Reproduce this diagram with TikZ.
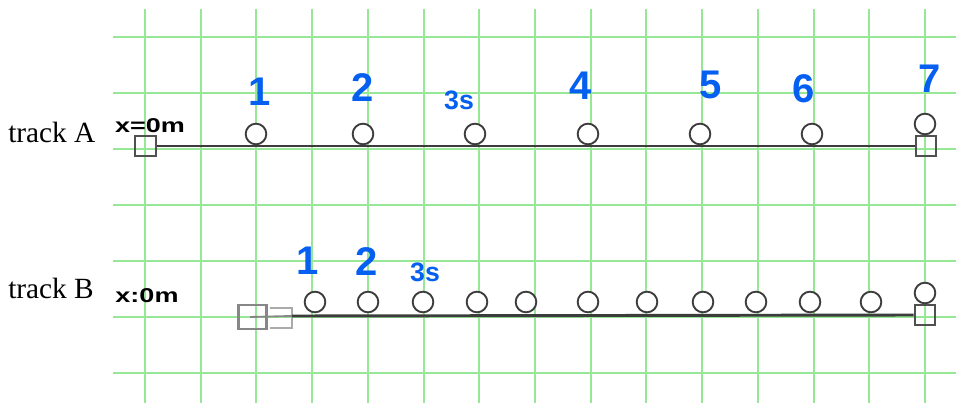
\documentclass[tikz,border=0pt]{standalone}
\usepackage{fontspec}
\setmainfont{Liberation Serif}
\newfontfamily\handfont{Liberation Sans}
\definecolor{gridgreen}{RGB}{150,232,150}
\definecolor{inkblue}{RGB}{5,95,240}
\definecolor{trackgray}{RGB}{60,60,60}
\definecolor{selgray}{RGB}{135,135,135}
\definecolor{selgraylight}{RGB}{170,170,170}
\begin{document}
\begin{tikzpicture}[x=0.75pt,y=-0.75pt,
  gridline/.style={gridgreen,line width=1.5pt},
  ball/.style={circle,draw=trackgray,line width=1.4pt,minimum size=15.5pt,inner sep=0pt,fill=white},
  cart/.style={rectangle,draw=trackgray!90,line width=1.4pt,minimum size=15.5pt,inner sep=0pt},
  trackline/.style={draw=trackgray,line width=2.2pt},
  tracklabel/.style={font=\fontsize{22}{22}\selectfont,anchor=base west,inner sep=0pt},
  originlabel/.style={font=\handfont\bfseries\fontsize{15}{15}\selectfont,xscale=1.35,inner sep=0pt},
  numlabel/.style={text=inkblue,font=\handfont\bfseries\fontsize{30}{30}\selectfont,inner sep=0pt},
  smalllabel/.style={text=inkblue,font=\handfont\bfseries\fontsize{20}{20}\selectfont,inner sep=0pt}]
\useasboundingbox (0,0) rectangle (956,403);
\fill[white] (0,0) rectangle (956,403);
% grid
\foreach \k in {0,...,14} {
  \draw[gridline] ({145+55.71*\k},9) -- ({145+55.71*\k},403);
}
\foreach \k in {0,...,6} {
  \draw[gridline] (113,{37+56*\k}) -- (956,{37+56*\k});
}
% track labels
\node[tracklabel] (ta) at (8,142) {track A};
\node[tracklabel] (tb) at (8,298) {track B};
\node[originlabel] (oa) at (150,126) {x=0m};
\node[originlabel] (ob) at (147,296) {x:0m};
% track A
\node[cart] (sa0) at (145.5,146) {};
\node[cart] (sa7) at (926,146) {};
\path[trackline] (sa0.east) -- (sa7.west);
\node[ball] (a1) at (256,134) {};
\node[ball] (a2) at (363,134) {};
\node[ball] (a3) at (475,134) {};
\node[ball] (a4) at (588,134) {};
\node[ball] (a5) at (700,134) {};
\node[ball] (a6) at (812,134) {};
\node[ball] (a7) at (925,124) {};
\node[numlabel] (la1) at (260,92) {1};
\node[numlabel] (la2) at (363,88) {2};
\node[smalllabel] (la3) at (459,100) {3s};
\node[numlabel] (la4) at (581,86) {4};
\node[numlabel] (la5) at (711,85) {5};
\node[numlabel] (la6) at (804,89) {6};
\node[numlabel] (la7) at (930,79) {7};
% track B
\node[rectangle,draw=selgray,line width=1.6pt,minimum width=21pt,minimum height=18pt,inner sep=0pt] (sb0) at (252.5,317) {};
\coordinate (hb) at (292,316);
\draw[selgraylight,line width=1.2pt] (270,308) -- (292,308) -- (292,328) -- (270,328);
\draw[selgray,line width=1.4pt] (250,317) -- (hb);
\node[cart] (sb7) at (925,315) {};
\path[trackline] (hb) -- (sb7.west);
\foreach \x/\n in {315/1,368/2,423/3,477/4,526/5,588/6,647/7,703/8,756/9,810/10,871/11} {
  \node[ball] (b\n) at (\x,302) {};
}
\node[ball] (b12) at (925,293) {};
\node[numlabel] (lb1) at (308,261) {1};
\node[numlabel] (lb2) at (367,262) {2};
\node[smalllabel] (lb3) at (425,272) {3s};
\end{tikzpicture}
\end{document}
